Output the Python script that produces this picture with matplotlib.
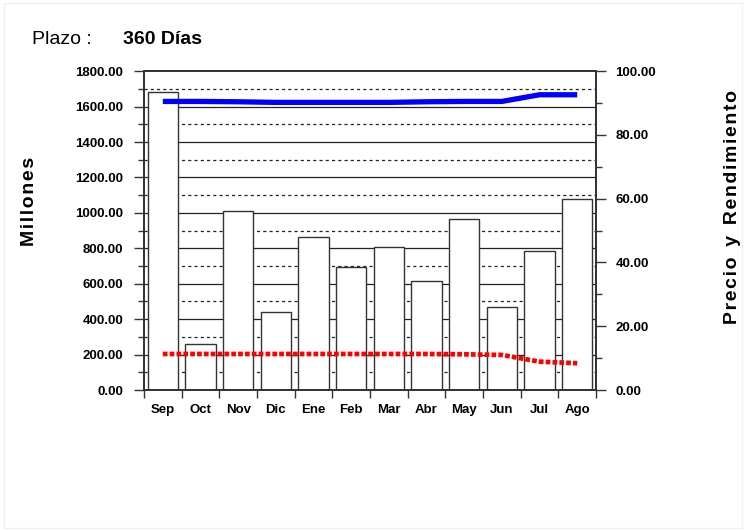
import matplotlib.pyplot as plt
import matplotlib.ticker as ticker
from matplotlib.patches import Rectangle

plt.rcParams['font.family'] = ['Liberation Sans', 'DejaVu Sans']

# Datos.
meses = ['Sep', 'Oct', 'Nov', 'Dic', 'Ene', 'Feb', 'Mar', 'Abr', 'May', 'Jun', 'Jul', 'Ago']
montos = [1681, 260, 1010, 440, 863, 694, 807, 615, 965, 468, 784, 1078]          # Millones
precio = [90.5, 90.5, 90.4, 90.2, 90.2, 90.2, 90.2, 90.4, 90.5, 90.5, 92.6, 92.6]  # Precio
rendimiento = [11.3, 11.3, 11.3, 11.3, 11.3, 11.3, 11.3, 11.3, 11.2, 11.0, 8.9, 8.4]


def espaciar(txt):
    # Separa las letras con un espacio fino (el original tiene letras espaciadas).
    return '\u200a'.join(txt)


fig = plt.figure(figsize=(7.46, 5.31), dpi=100)
fig.patches.append(Rectangle((0.006, 0.006), 0.988, 0.988, transform=fig.transFigure,
                             fill=False, edgecolor='#f0f0f0', linewidth=1))

ax1 = fig.add_axes([0.193, 0.2655, 0.606, 0.6005])
ax2 = ax1.twinx()

x = list(range(len(meses)))

# Lineas de cuadricula (solidas cada 200, punteadas cada 100).
for v in range(200, 1800, 200):
    ax1.axhline(v, color='#222222', linewidth=0.9, zorder=0)
for v in range(100, 1800, 200):
    ax1.axhline(v, color='#222222', linewidth=0.9, linestyle=(0, (2.5, 2.5)), zorder=0)

ax1.bar(x, montos, width=0.8, color='white', edgecolor='#333333', linewidth=1.0, zorder=2)

ax1.set_xlim(-0.5, len(meses) - 0.5)
ax1.set_ylim(0, 1800)
ax1.yaxis.set_major_locator(ticker.MultipleLocator(200))
ax1.yaxis.set_minor_locator(ticker.MultipleLocator(100))
ax1.yaxis.set_major_formatter(ticker.FormatStrFormatter('%.2f'))
ax1.set_xticks(x)
ax1.set_xticklabels(meses)
ax1.xaxis.set_minor_locator(ticker.FixedLocator([i - 0.5 for i in range(len(meses) + 1)]))
ax1.tick_params(axis='x', which='major', length=0, pad=10)
ax1.tick_params(axis='x', which='minor', length=6, width=1, color='#333333')
ax1.tick_params(axis='y', which='major', length=7, width=1, color='#333333', pad=8)
ax1.tick_params(axis='y', which='minor', length=4, width=1, color='#333333')
for lbl in ax1.get_xticklabels() + ax1.get_yticklabels():
    lbl.set_fontweight('bold')
    lbl.set_fontsize(9.5)

ax2.plot(x, precio, color='#0000ff', linewidth=3.8, solid_capstyle='butt', zorder=3)
ax2.plot(x, rendimiento, color='#ff0000', linewidth=3.4, linestyle=(0, (1, 0.45)),
         dash_capstyle='butt', zorder=3)
ax2.set_ylim(0, 100)
ax2.yaxis.set_major_locator(ticker.MultipleLocator(20))
ax2.yaxis.set_minor_locator(ticker.MultipleLocator(10))
ax2.yaxis.set_major_formatter(ticker.FormatStrFormatter('%.2f'))
ax2.tick_params(axis='y', which='major', length=7, width=1, color='#333333', pad=7)
ax2.tick_params(axis='y', which='minor', length=4, width=1, color='#333333')
for lbl in ax2.get_yticklabels():
    lbl.set_fontweight('bold')
    lbl.set_fontsize(9.5)

for ax in (ax1, ax2):
    for s in ax.spines.values():
        s.set_color('#333333')
        s.set_linewidth(1.3)

ax2.set_zorder(ax1.get_zorder() + 1)
ax2.patch.set_visible(False)

fig.text(0.043, 0.925, 'Plazo :', fontsize=14, va='center', ha='left')
fig.text(0.165, 0.925, '360 Días', fontsize=14, fontweight='bold', va='center', ha='left')
fig.text(0.040, 0.620, espaciar('Millones'), fontsize=14, fontweight='bold', rotation=90,
         va='center', ha='center')
fig.text(0.982, 0.610, espaciar('Precio') + '  ' + espaciar('y') + '  ' + espaciar('Rendimiento'),
         fontsize=14, fontweight='bold', rotation=90, va='center', ha='center')

fig.savefig('out.png', dpi=100)
